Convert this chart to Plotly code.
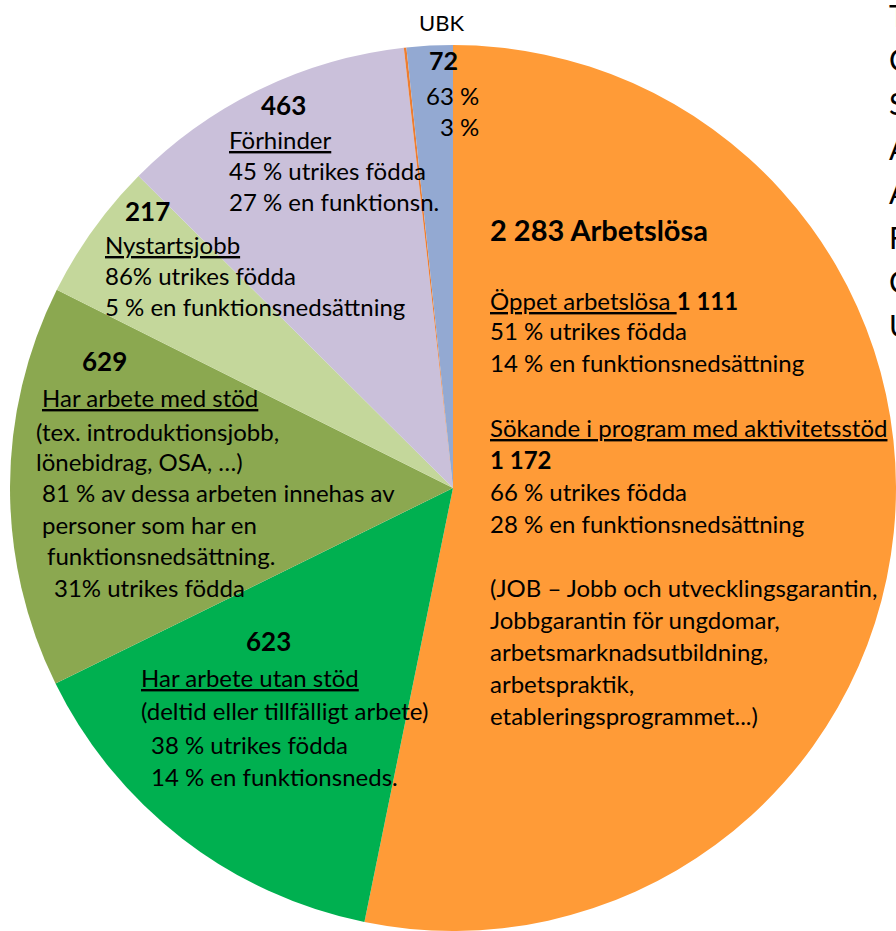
import plotly.graph_objects as go

W, H = 896, 931

# slices, clockwise from 12 o'clock
labels = ["Arbetslösa", "Har arbete utan stöd", "Har arbete med stöd",
          "Nystartsjobb", "Förhinder", "Övrigt", "UBK"]
values = [2283, 623, 629, 217, 463, 4, 72]
colors = ["#FF9B37", "#00B050", "#8BA850", "#C4D79B", "#CAC0DA", "#ED7D31", "#93A9D2"]

# first letters of a text box that lies mostly outside the picture
side_letters = ["T", "C", "S", "A", "A", "F", "C", "U"]

FONT = "Lato"
FS = 24

fig = go.Figure(go.Pie(
    labels=labels,
    values=values,
    sort=False,
    direction="clockwise",
    rotation=0,
    marker=dict(colors=colors, line=dict(width=0)),
    textinfo="none",
    hoverinfo="label+value",
    domain=dict(x=[10 / W, 1], y=[0, 1 - 45 / H]),
))

# text lines: (x px, centre y px, text, size, anchor)
lines = [
    # UBK
    (441, 22, "UBK", 22, "center"),
    (443, 60, "<b>72</b>", 25, "center"),
    (480, 96, "63 %", FS, "right"),
    (480, 127, "3 %", FS, "right"),
    # Förhinder
    (283, 105, "<b>463</b>", 26, "center"),
    (228, 139, "<u>Förhinder</u>", FS, "left"),
    (228, 171, "45 % utrikes födda", FS, "left"),
    (228, 201, "27 % en funktionsn.", FS, "left"),
    # Nystartsjobb
    (147, 211, "<b>217</b>", 26, "center"),
    (104, 244, "<u>Nystartsjobb</u>", FS, "left"),
    (104, 276, "86% utrikes födda", FS, "left"),
    (104, 306, "5 % en funktionsnedsättning", FS, "left"),
    # med stöd
    (104, 361, "<b>629</b>", 26, "center"),
    (41, 398, "<u>Har arbete med stöd</u>", FS, "left"),
    (35, 431, "(tex. introduktionsjobb,", FS, "left"),
    (35, 461, "lönebidrag, OSA, …)", FS, "left"),
    (41, 493, "81 % av dessa arbeten innehas av", FS, "left"),
    (41, 524, "personer som har en", FS, "left"),
    (46, 555, "funktionsnedsättning.", FS, "left"),
    (53, 587, "31% utrikes födda", FS, "left"),
    # utan stöd
    (268, 641, "<b>623</b>", 26, "center"),
    (140, 677, "<u>Har arbete utan stöd</u>", FS, "left"),
    (140, 710, "(deltid eller tillfälligt arbete)", FS, "left"),
    (150, 744, "38 % utrikes födda", FS, "left"),
    (150, 776, "14 % en funktionsneds.", FS, "left"),
    # Arbetslösa
    (489, 229, "<b>2 283 Arbetslösa</b>", 29, "left"),
    (489, 300, "<u>Öppet arbetslösa </u><b>1 111</b>", FS, "left"),
    (489, 330, "51 % utrikes födda", FS, "left"),
    (489, 362, "14 % en funktionsnedsättning", FS, "left"),
    (489, 427, "<u>Sökande i program med aktivitetsstöd</u>", FS, "left"),
    (489, 460, "<b>1 172</b>", FS, "left"),
    (489, 491, "66 % utrikes födda", FS, "left"),
    (489, 523, "28 % en funktionsnedsättning", FS, "left"),
    (489, 587, "(JOB – Jobb och utvecklingsgarantin,", FS, "left"),
    (489, 619, "Jobbgarantin för ungdomar,", FS, "left"),
    (489, 651, "arbetsmarknadsutbildning,", FS, "left"),
    (489, 683, "arbetspraktik,", FS, "left"),
    (489, 715, "etableringsprogrammet...)", FS, "left"),
]

for x, y, txt, size, anchor in lines:
    fig.add_annotation(
        x=x / W, y=1 - y / H, xref="paper", yref="paper",
        xanchor=anchor, yanchor="middle", showarrow=False, borderpad=0,
        text=txt, font=dict(family=FONT, size=size, color="black"),
    )

# cut-off letters at the right edge: a text trace on a hidden pixel-sized
# axis pair, clipped by the plot area (annotations get pushed back inside)
side_y = [19 + i * 44.4 for i in range(len(side_letters))]
fig.add_trace(go.Scatter(
    x=[889] * len(side_letters), y=side_y,
    mode="text", text=side_letters, textposition="middle right",
    textfont=dict(family=FONT, size=30, color="black"),
    cliponaxis=True, hoverinfo="skip", showlegend=False,
))

fig.update_layout(
    width=W, height=H,
    margin=dict(l=0, r=0, t=0, b=0),
    showlegend=False,
    paper_bgcolor="white",
    plot_bgcolor="rgba(0,0,0,0)",
    xaxis=dict(range=[0, W], visible=False, fixedrange=True),
    yaxis=dict(range=[H, 0], visible=False, fixedrange=True),
)

# drop the default body margin so the figure fills the window
fig.write_html("out.html", config={"displayModeBar": False},
               post_script="document.body.style.margin='0';")
